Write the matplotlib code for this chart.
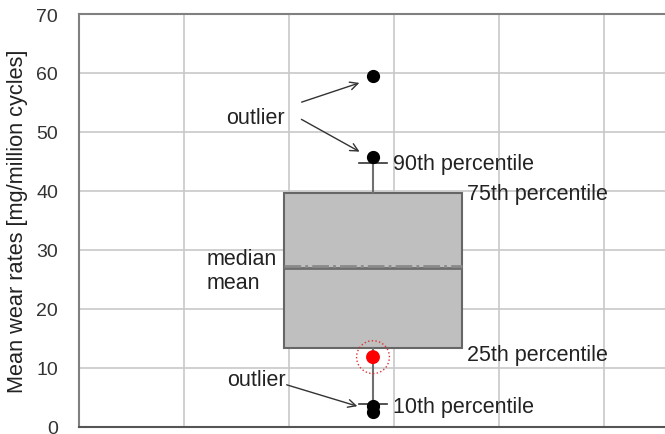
import matplotlib
matplotlib.use("Agg")
import matplotlib.pyplot as plt

plt.rcParams['font.family'] = ['Liberation Sans', 'DejaVu Sans']

# ---- data ----
y_ticks = [0, 10, 20, 30, 40, 50, 60, 70]
y_label = "Mean wear rates [mg/million cycles]"
q1, q3 = 13.3, 39.7
median_val = 26.9
mean_val = 27.3
p10, p90 = 3.8, 44.8
outliers = [59.5, 45.8, 3.5, 2.5]
highlight = 11.8
labels = {
    "outlier_top": "outlier",
    "p90": "90th percentile",
    "p75": "75th percentile",
    "median": "median",
    "mean": "mean",
    "p25": "25th percentile",
    "outlier_bot": "outlier",
    "p10": "10th percentile",
}

fig = plt.figure(figsize=(6.65, 4.35), dpi=100)
ax = fig.add_axes([79/665, (435-427.7)/435, 630/665, (427.7-15)/435])

pos = 2.8
stats = [dict(med=median_val, q1=q1, q3=q3, whislo=p10, whishi=p90,
              fliers=outliers, mean=mean_val)]
ax.bxp(stats, positions=[pos], widths=[1.69], capwidths=[0.27],
       showmeans=True, meanline=True, patch_artist=True, showfliers=True,
       boxprops=dict(facecolor='#bfbfbf', edgecolor='#666666', linewidth=1.5),
       medianprops=dict(color='#6e6e6e', linewidth=2),
       meanprops=dict(color='#8a8a8a', linestyle=(0, (6, 1.5, 1, 1.5)), linewidth=2.0),
       whiskerprops=dict(color='#707070', linewidth=1.5),
       capprops=dict(color='#333333', linewidth=1.2),
       flierprops=dict(marker='o', markerfacecolor='black', markeredgecolor='black',
                       markersize=8.5, linestyle='none'),
       zorder=3)

ax.scatter([pos], [highlight], s=100, color='#ff0000', zorder=5, edgecolors='none')
ax.scatter([pos], [highlight], s=560, facecolors='none', edgecolors='#e03030',
           linestyles=':', linewidths=1.0, zorder=5)

ax.set_xlim(0, 6)
ax.set_ylim(0, 70)
ax.set_yticks(y_ticks)
ax.set_xticks([1, 2, 3, 4, 5])
ax.set_xticklabels([])
ax.tick_params(axis='both', length=0, labelsize=14, colors='#222222', pad=15)
ax.tick_params(axis='y', labelcolor='#333333')
ax.grid(True, color='#c8c8c8', linewidth=1.2)
ax.set_axisbelow(True)
for s in ['left', 'bottom', 'top']:
    ax.spines[s].set_color('#808080')
    ax.spines[s].set_linewidth(1.5)
ax.spines['bottom'].set_color('#555555')
ax.set_ylabel(y_label, fontsize=15.7, color='#222222', labelpad=6)

def X(px):
    return (px - 79) / 105

fs = 15.5
tc = '#222222'
ax.text(X(285), 52.4, labels["outlier_top"], ha='right', va='center', fontsize=fs, color=tc)
ax.text(X(393), 44.6, labels["p90"], ha='left', va='center', fontsize=fs, color=tc)
ax.text(X(467), 39.6, labels["p75"], ha='left', va='center', fontsize=fs, color=tc)
ax.text(X(207), 28.6, labels["median"], ha='left', va='center', fontsize=fs, color=tc)
ax.text(X(207), 24.4, labels["mean"], ha='left', va='center', fontsize=fs, color=tc)
ax.text(X(467), 12.3, labels["p25"], ha='left', va='center', fontsize=fs, color=tc)
ax.text(X(286), 8.0, labels["outlier_bot"], ha='right', va='center', fontsize=fs, color=tc)
ax.text(X(393), 3.5, labels["p10"], ha='left', va='center', fontsize=fs, color=tc)

arrow = dict(arrowstyle='->', color='#333333', lw=1.0, mutation_scale=14)
def Y(py):
    return (427.7 - py) / 5.896
ax.annotate('', xy=(X(362), Y(83)), xytext=(X(299), Y(104)), arrowprops=arrow)
ax.annotate('', xy=(X(362), Y(154)), xytext=(X(299), Y(119)), arrowprops=arrow)
ax.annotate('', xy=(X(360), Y(408)), xytext=(X(284), Y(385)), arrowprops=arrow)

fig.savefig('out.png', dpi=100)
